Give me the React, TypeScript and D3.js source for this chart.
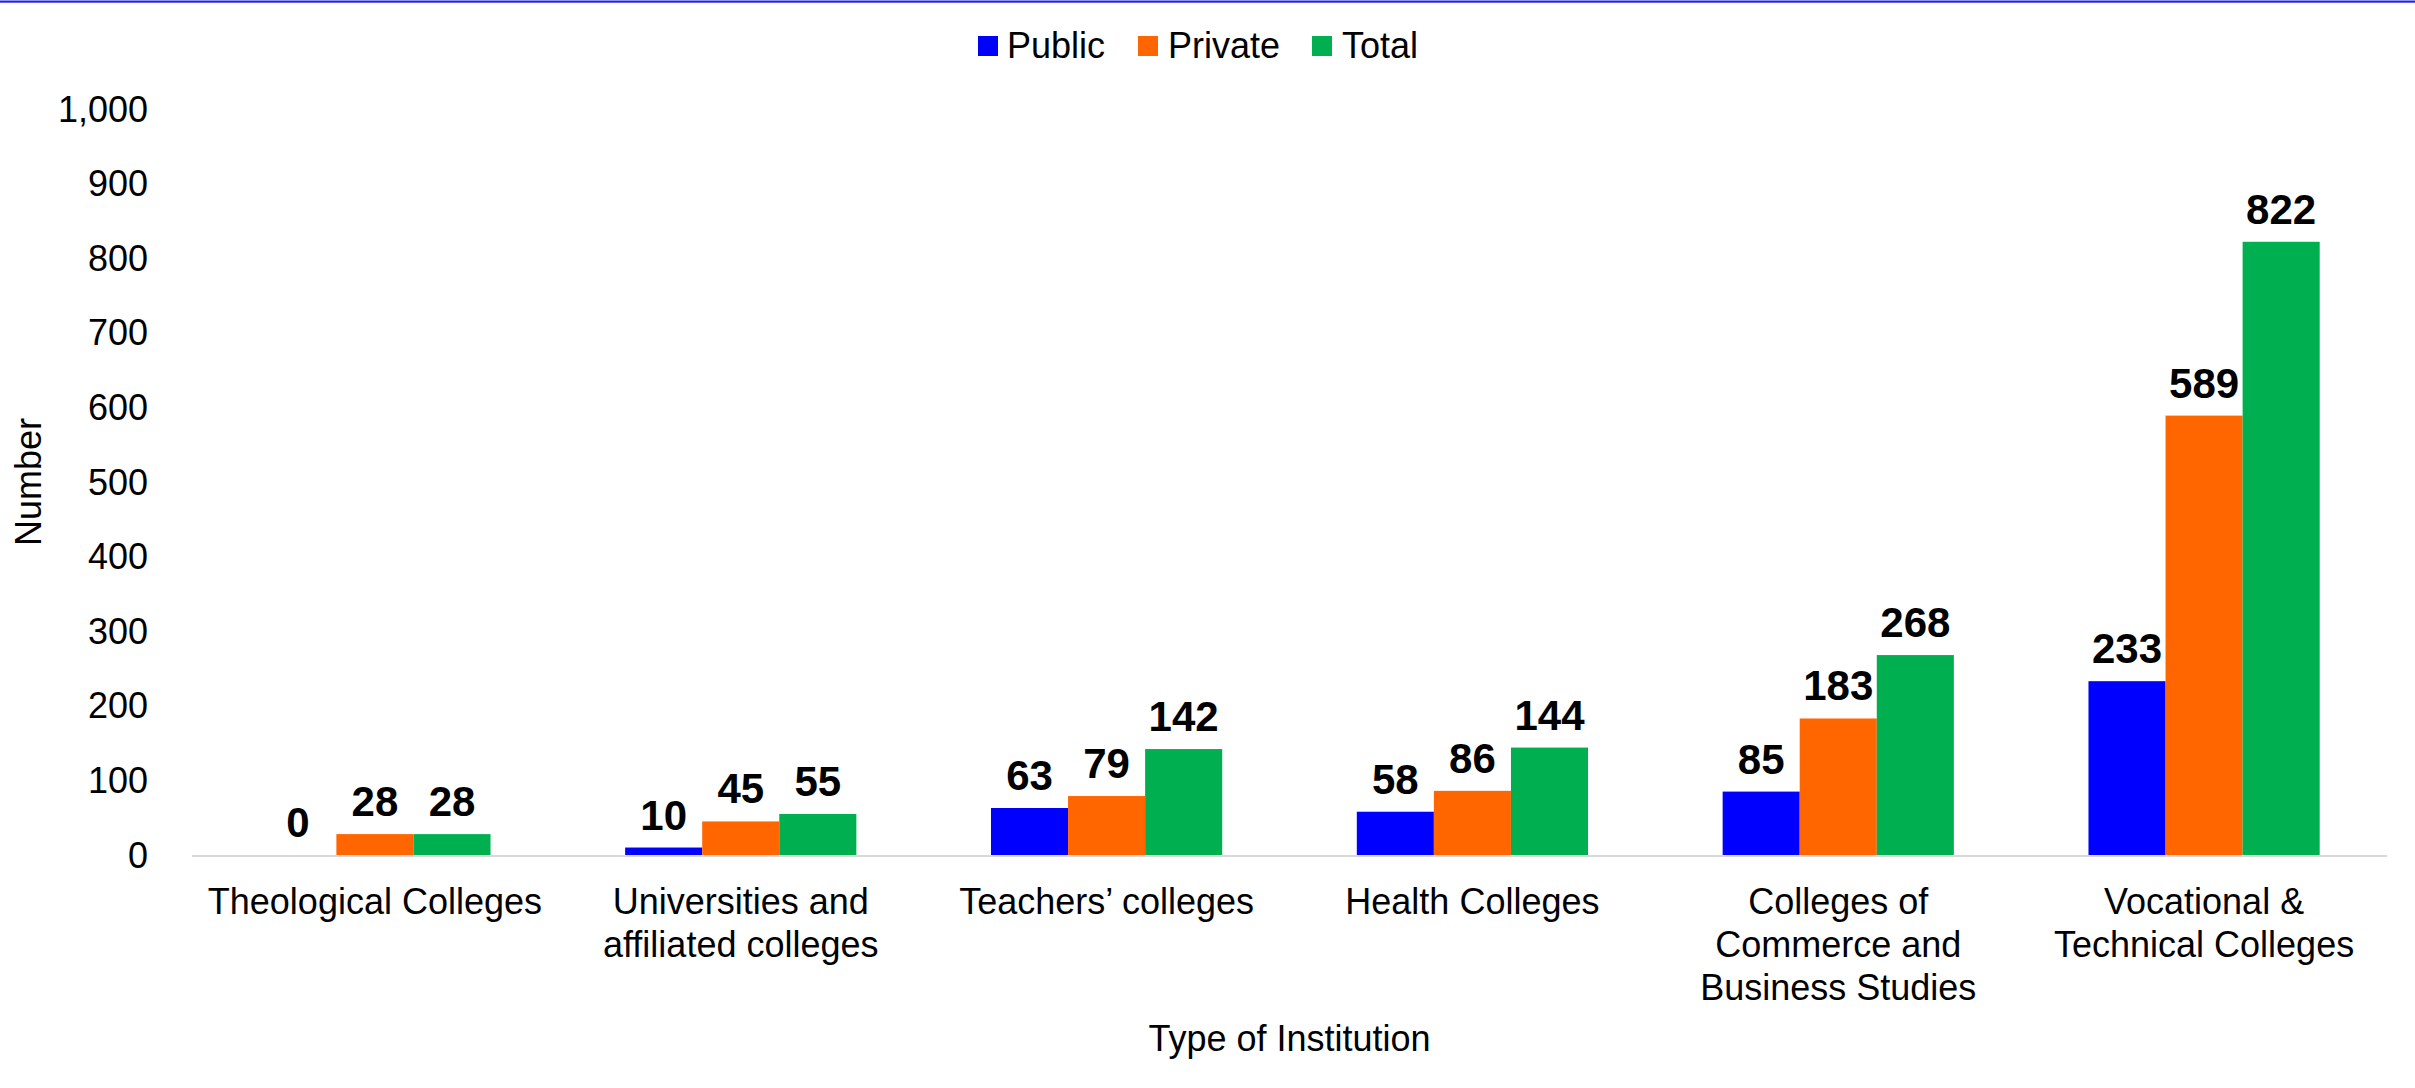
import React from "react";
import * as d3 from "d3";

const categories: string[][] = [
  ["Theological Colleges"],
  ["Universities and", "affiliated colleges"],
  ["Teachers\u2019 colleges"],
  ["Health Colleges"],
  ["Colleges of", "Commerce and", "Business Studies"],
  ["Vocational &", "Technical Colleges"],
];
const seriesNames = ["Public", "Private", "Total"];
const publicValues = [0, 10, 63, 58, 85, 233];
const privateValues = [28, 45, 79, 86, 183, 589];
const totalValues = [28, 55, 142, 144, 268, 822];
const seriesColors = ["#0000FF", "#FF6600", "#00B050"];
const yTicks = [0, 100, 200, 300, 400, 500, 600, 700, 800, 900, 1000];

const W = 2415;
const H = 1088;
const FONT = "'Liberation Sans', Arial, Helvetica, sans-serif";

export default function App() {
  const seriesValues = [publicValues, privateValues, totalValues];
  const left = 192;
  const right = 2387;
  const baseY = 855;
  const topY = 109;

  const y = d3.scaleLinear().domain([0, 1000]).range([baseY, topY]);
  const catIdx = categories.map((_, i) => String(i));
  const pad = 0.368;
  const x0 = d3
    .scaleBand<string>()
    .domain(catIdx)
    .range([left, right])
    .paddingInner(pad)
    .paddingOuter(pad / 2);
  const x1 = d3
    .scaleBand<string>()
    .domain(seriesNames)
    .range([0, x0.bandwidth()])
    .padding(0);
  const fmt = d3.format(",");

  const legendItems = [
    { name: "Public", sx: 978, tx: 1007 },
    { name: "Private", sx: 1138, tx: 1168 },
    { name: "Total", sx: 1312, tx: 1342 },
  ];

  return (
    <svg
      width={W}
      height={H}
      style={{ position: "absolute", left: 0, top: 0, background: "#fff" }}
      fontFamily={FONT}
    >
      <rect x={0} y={0} width={W} height={H} fill="#fff" />
      <rect x={0} y={0.5} width={W} height={2.2} fill="#2323e6" />

      {/* Legend */}
      {legendItems.map((it, i) => (
        <g key={it.name}>
          <rect x={it.sx} y={36} width={20} height={20} fill={seriesColors[i]} />
          <text x={it.tx} y={58} fontSize={36} fill="#000">
            {it.name}
          </text>
        </g>
      ))}

      {/* Y tick labels */}
      {yTicks.map((t) => (
        <text
          key={t}
          x={148}
          y={y(t)}
          dy="0.35em"
          textAnchor="end"
          fontSize={36}
          fill="#000"
        >
          {fmt(t)}
        </text>
      ))}

      {/* Bars */}
      {categories.map((_, ci) => (
        <g key={ci} transform={`translate(${x0(String(ci))},0)`}>
          {seriesNames.map((s, si) => {
            const v = seriesValues[si][ci];
            const bx = x1(s)!;
            return (
              <rect
                key={s}
                x={bx}
                y={y(v)}
                width={x1.bandwidth()}
                height={baseY - y(v)}
                fill={seriesColors[si]}
              />
            );
          })}
        </g>
      ))}

      {/* Baseline */}
      <line x1={left} x2={right} y1={baseY + 1} y2={baseY + 1} stroke="#d9d9d9" strokeWidth={2} />

      {/* Data labels */}
      {categories.map((_, ci) => (
        <g key={"l" + ci} transform={`translate(${x0(String(ci))},0)`}>
          {seriesNames.map((s, si) => {
            const v = seriesValues[si][ci];
            return (
              <text
                key={s}
                x={x1(s)! + x1.bandwidth() / 2}
                y={y(v) - 18}
                textAnchor="middle"
                fontSize={42}
                fontWeight="bold"
                fill="#000"
              >
                {v}
              </text>
            );
          })}
        </g>
      ))}

      {/* Category labels */}
      {categories.map((lines, ci) => (
        <text
          key={"c" + ci}
          x={x0(String(ci))! + x0.bandwidth() / 2}
          y={914}
          textAnchor="middle"
          fontSize={36}
          fill="#000"
        >
          {lines.map((ln, li) => (
            <tspan key={li} x={x0(String(ci))! + x0.bandwidth() / 2} dy={li === 0 ? 0 : 43}>
              {ln}
            </tspan>
          ))}
        </text>
      ))}

      {/* Axis titles */}
      <text x={(left + right) / 2} y={1051} textAnchor="middle" fontSize={36} fill="#000">
        Type of Institution
      </text>
      <text
        transform={`translate(41,${(baseY + topY) / 2}) rotate(-90)`}
        textAnchor="middle"
        fontSize={36}
        fill="#000"
      >
        Number
      </text>
    </svg>
  );
}
